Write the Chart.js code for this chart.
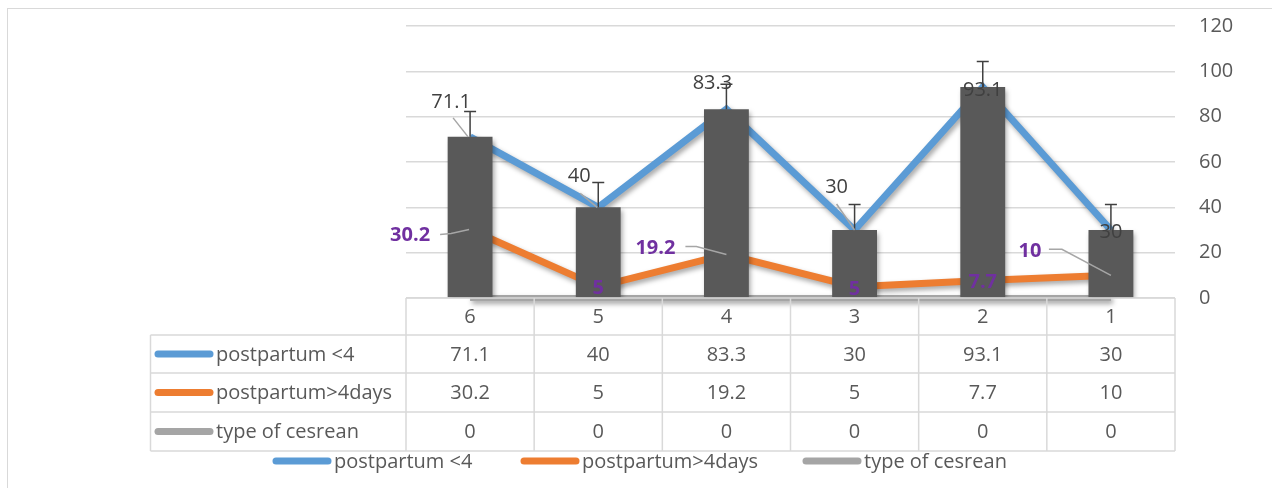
<!DOCTYPE html>
<html>
<head>
<meta charset="utf-8">
<script src="https://cdn.jsdelivr.net/npm/chart.js@4.4.1/dist/chart.umd.min.js"></script>
<style>
  html, body { margin: 0; padding: 0; background: #fff; }
  #wrap { width: 1272px; height: 488px; position: relative; }
</style>
</head>
<body>
<div id="wrap"><canvas id="chart"></canvas></div>
<script>
// data
const categories = ['6', '5', '4', '3', '2', '1'];
const postpartumUnder4 = [71.1, 40, 83.3, 30, 93.1, 30];
const postpartumOver4 = [30.2, 5, 19.2, 5, 7.7, 10];
const typeOfCesrean = [0, 0, 0, 0, 0, 0];
const barErrors = [11.2, 11, 11, 11.2, 11.2, 11.3];
const seriesNames = ['postpartum <4', 'postpartum>4days', 'type of cesrean'];
const seriesColors = ['#5B9BD5', '#ED7D31', '#A5A5A5'];

// label placement (offset from the point, optional leader line)
const blueLabelPlace = [
  { dx: -19, dy: -35, leader: [[-17, -19], [-2, 0]] },
  { dx: -19, dy: -31, leader: [[-18, -14], [-1, 0]] },
  { dx: -14, dy: -26 },
  { dx: -18, dy: -43, leader: [[-18, -26], [0, 0]] },
  { dx: 0, dy: 3 },
  { dx: 0, dy: 2 }
];
const orangeLabelPlace = [
  { dx: -60, dy: 6, leader: [[-30, 5], [-19, 4], [-1, 0]] },
  { dx: 0, dy: 2 },
  { dx: -71, dy: -6, leader: [[-41, -8], [-30, -8], [0, 0]] },
  { dx: 0, dy: 3 },
  { dx: 0, dy: 2 },
  { dx: -81, dy: -24, leader: [[-62, -26], [-49, -26], [0, 0]] }
];

const FONT = "'Open Sans', sans-serif";
const TEXT = '#595959';

Chart.defaults.font.family = FONT;
Chart.defaults.color = TEXT;

// Excel-like soft shadow under every series
const shadowPlugin = {
  id: 'shadow',
  beforeDatasetDraw(chart) {
    const ctx = chart.ctx;
    ctx.save();
    ctx.shadowColor = 'rgba(0,0,0,0.35)';
    ctx.shadowBlur = 5;
    ctx.shadowOffsetX = 2;
    ctx.shadowOffsetY = 3;
  },
  afterDatasetDraw(chart) {
    chart.ctx.restore();
  }
};

const extrasPlugin = {
  id: 'extras',
  beforeDraw(chart) {
    const ctx = chart.ctx;
    ctx.save();
    ctx.strokeStyle = '#d9d9d9';
    ctx.lineWidth = 1;
    ctx.strokeRect(7.5, 8.5, 1400, 600);
    ctx.restore();
  },
  afterDatasetsDraw(chart) {
    const ctx = chart.ctx;
    const y = chart.scales.y;

    // error bars on the columns
    const barMeta = chart.getDatasetMeta(3);
    ctx.save();
    ctx.strokeStyle = '#404040';
    ctx.lineWidth = 1.5;
    barMeta.data.forEach((bar, i) => {
      const top = y.getPixelForValue(postpartumUnder4[i] + barErrors[i]);
      ctx.beginPath();
      ctx.moveTo(bar.x, bar.y);
      ctx.lineTo(bar.x, top);
      ctx.moveTo(bar.x - 6, top);
      ctx.lineTo(bar.x + 6, top);
      ctx.stroke();
    });
    ctx.restore();

    // data labels
    const drawLabels = (dsIndex, values, place, font, color) => {
      const meta = chart.getDatasetMeta(dsIndex);
      meta.data.forEach((pt, i) => {
        const p = place[i];
        if (p.leader) {
          ctx.save();
          ctx.strokeStyle = '#a6a6a6';
          ctx.lineWidth = 1.5;
          ctx.beginPath();
          p.leader.forEach((q, k) => {
            if (k === 0) ctx.moveTo(pt.x + q[0], pt.y + q[1]);
            else ctx.lineTo(pt.x + q[0], pt.y + q[1]);
          });
          ctx.stroke();
          ctx.restore();
        }
        ctx.save();
        ctx.font = font;
        ctx.fillStyle = color;
        ctx.textAlign = 'center';
        ctx.textBaseline = 'middle';
        ctx.fillText(String(values[i]), pt.x + p.dx, pt.y + p.dy);
        ctx.restore();
      });
    };
    drawLabels(0, postpartumUnder4, blueLabelPlace, '20px ' + FONT, '#404040');
    drawLabels(1, postpartumOver4, orangeLabelPlace, 'bold 20px ' + FONT, '#7030A0');
  },
  afterDraw(chart) {
    const ctx = chart.ctx;
    const x = chart.scales.x;
    const area = chart.chartArea;
    const colW = (area.right - area.left) / categories.length;
    const rowTops = [area.bottom, 335, 373, 412, 451];
    const headLeft = 150.5;
    const rows = [postpartumUnder4, postpartumOver4, typeOfCesrean];

    ctx.save();
    ctx.strokeStyle = '#d9d9d9';
    ctx.lineWidth = 1.5;
    ctx.beginPath();
    // horizontal lines
    ctx.moveTo(area.left, rowTops[0]);
    ctx.lineTo(area.right, rowTops[0]);
    for (let r = 1; r < rowTops.length; r++) {
      ctx.moveTo(headLeft, rowTops[r]);
      ctx.lineTo(area.right, rowTops[r]);
    }
    // vertical lines
    for (let c = 0; c <= categories.length; c++) {
      const cx = area.left + c * colW;
      ctx.moveTo(cx, rowTops[0]);
      ctx.lineTo(cx, rowTops[4]);
    }
    ctx.moveTo(headLeft, rowTops[1]);
    ctx.lineTo(headLeft, rowTops[4]);
    ctx.stroke();

    ctx.font = '20px ' + FONT;
    ctx.fillStyle = TEXT;
    ctx.textAlign = 'center';
    ctx.textBaseline = 'middle';
    categories.forEach((c, i) => {
      ctx.fillText(c, x.getPixelForValue(i), (rowTops[0] + rowTops[1]) / 2 + 1);
    });
    rows.forEach((vals, r) => {
      const cy = (rowTops[r + 1] + rowTops[r + 2]) / 2 + 1;
      vals.forEach((v, i) => ctx.fillText(String(v), x.getPixelForValue(i), cy));
    });

    // row headers with line keys
    const swatch = (x0, x1, cy, color) => {
      ctx.strokeStyle = color;
      ctx.lineWidth = 7;
      ctx.lineCap = 'round';
      ctx.beginPath();
      ctx.moveTo(x0, cy);
      ctx.lineTo(x1, cy);
      ctx.stroke();
    };
    ctx.textAlign = 'left';
    seriesNames.forEach((name, r) => {
      const cy = (rowTops[r + 1] + rowTops[r + 2]) / 2;
      swatch(158, 210, cy, seriesColors[r]);
      ctx.fillStyle = TEXT;
      ctx.fillText(name, 216, cy + 1);
    });

    // legend underneath
    const legendX = [276, 524, 806];
    const legendY = 461;
    seriesNames.forEach((name, r) => {
      swatch(legendX[r], legendX[r] + 52, legendY, seriesColors[r]);
      ctx.fillStyle = TEXT;
      ctx.fillText(name, legendX[r] + 58, legendY + 1);
    });
    ctx.restore();
  }
};

new Chart(document.getElementById('chart'), {
  data: {
    labels: categories,
    datasets: [
      {
        type: 'line', label: seriesNames[0], data: postpartumUnder4,
        borderColor: seriesColors[0], borderWidth: 7, pointRadius: 0,
        tension: 0, order: 1
      },
      {
        type: 'line', label: seriesNames[1], data: postpartumOver4,
        borderColor: seriesColors[1], borderWidth: 7, pointRadius: 0,
        tension: 0, order: 2, clip: false
      },
      {
        type: 'line', label: seriesNames[2], data: typeOfCesrean,
        borderColor: seriesColors[2], borderWidth: 6, pointRadius: 0,
        tension: 0, order: 3, clip: false
      },
      {
        type: 'bar', label: '', data: postpartumUnder4,
        backgroundColor: '#595959', borderWidth: 0,
        categoryPercentage: 1, barPercentage: 0.35, order: 0
      }
    ]
  },
  options: {
    responsive: true,
    maintainAspectRatio: false,
    animation: false,
    layout: { padding: { left: 406, right: 0, top: 26, bottom: 190 } },
    plugins: {
      legend: { display: false },
      tooltip: { enabled: false }
    },
    scales: {
      x: { display: false },
      y: {
        position: 'right',
        min: 0, max: 120,
        afterFit: s => { s.width = 97; },
        border: { display: false },
        grid: { color: '#d9d9d9', lineWidth: 1.5, drawTicks: true, tickLength: 24, tickColor: 'rgba(0,0,0,0)' },
        ticks: { stepSize: 20, padding: 0, font: { size: 20 }, color: TEXT }
      }
    }
  },
  plugins: [shadowPlugin, extrasPlugin]
});
</script>
</body>
</html>
